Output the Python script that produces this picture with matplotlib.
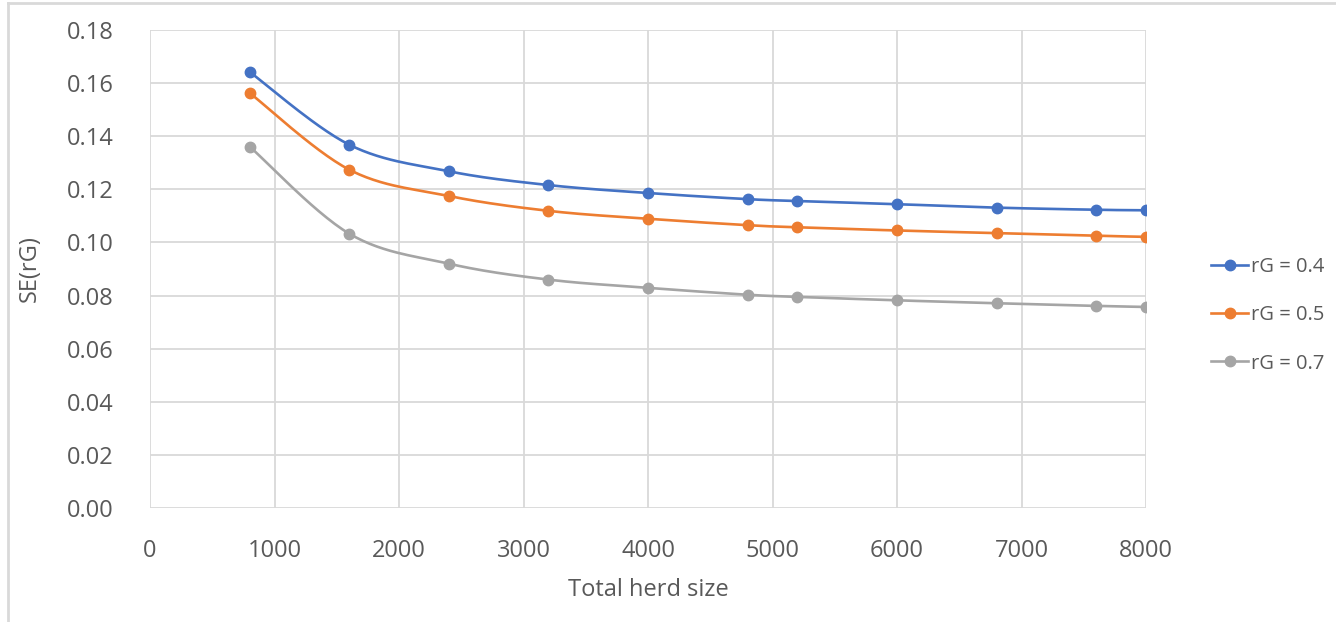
import numpy as np
import matplotlib.pyplot as plt
from matplotlib.lines import Line2D

plt.rcParams['font.family'] = ['Open Sans', 'DejaVu Sans']

herd_size = [800, 1600, 2400, 3200, 4000, 4800, 5200, 6000, 6800, 7600, 8000]
se_rg04 = [0.1642, 0.1368, 0.1268, 0.1216, 0.1186, 0.1163, 0.1156, 0.1144, 0.1131, 0.1123, 0.1121]
se_rg05 = [0.1563, 0.1274, 0.1175, 0.1119, 0.1089, 0.1065, 0.1057, 0.1045, 0.1035, 0.1025, 0.1021]
se_rg07 = [0.1361, 0.1033, 0.0920, 0.0860, 0.0829, 0.0803, 0.0795, 0.0782, 0.0771, 0.0761, 0.0757]
labels = ['rG = 0.4', 'rG = 0.5', 'rG = 0.7']
colors = ['#4472C4', '#ED7D31', '#A5A5A5']


def smooth(x, y, n=30):
    # catmull-rom style curve, close to excel "smoothed line"
    x = np.asarray(x, float); y = np.asarray(y, float)
    px = np.concatenate([[x[0]], x, [x[-1]]])
    py = np.concatenate([[y[0]], y, [y[-1]]])
    xs = []; ys = []
    t = np.linspace(0, 1, n)
    for i in range(1, len(px) - 2):
        p0, p1, p2, p3 = (np.array([px[j], py[j]]) for j in range(i - 1, i + 3))
        c1 = p1 + (p2 - p0) / 6
        c2 = p2 - (p3 - p1) / 6
        b = ((1 - t) ** 3)[:, None] * p1 + (3 * (1 - t) ** 2 * t)[:, None] * c1 \
            + (3 * (1 - t) * t ** 2)[:, None] * c2 + (t ** 3)[:, None] * p2
        xs.extend(b[:, 0]); ys.extend(b[:, 1])
    return xs, ys


fig = plt.figure(figsize=(13.36, 6.22), dpi=100)
ax = fig.add_axes([0.1123, 0.1833, 0.7455, 0.7685])

handles = []
for vals, c, lab in zip([se_rg04, se_rg05, se_rg07], colors, labels):
    sx, sy = smooth(herd_size, vals)
    ax.plot(sx, sy, color=c, lw=1.9, zorder=3, solid_capstyle='round')
    ax.plot(herd_size, vals, 'o', color=c, ms=7.5, zorder=4)
    handles.append(Line2D([], [], color=c, lw=1.9, marker='o', ms=7.5, label=lab))

ax.set_xlim(0, 8000)
ax.set_ylim(0, 0.18)
ax.set_xticks(np.arange(0, 8001, 1000))
ax.set_yticks(np.arange(0, 0.181, 0.02))
ax.set_yticklabels([f'{v:.2f}' for v in np.arange(0, 0.181, 0.02)])
ax.grid(True, color='#D9D9D9', lw=1.3)
ax.set_axisbelow(True)
for s in ax.spines.values():
    s.set_visible(False)
ax.tick_params(axis='y', length=0, labelsize=17, colors='#595959', pad=26)
ax.tick_params(axis='x', length=0, labelsize=17, colors='#595959', pad=22)
ax.set_xlabel('Total herd size', fontsize=17, color='#595959', labelpad=11)
ax.set_ylabel('SE(rG)', fontsize=17, color='#595959', labelpad=18)

fig.legend(handles=handles, loc='center left', bbox_to_anchor=(0.899, 0.493),
           frameon=False, fontsize=14.5, labelcolor='#595959', handlelength=1.85,
           handletextpad=0.15, labelspacing=1.4, borderpad=0)

# outer chart frame
fig.add_artist(Line2D([0.006, 1], [0.995, 0.995], color='#D9D9D9', lw=2, transform=fig.transFigure))
fig.add_artist(Line2D([0.006, 0.006], [0, 0.995], color='#D9D9D9', lw=2, transform=fig.transFigure))

fig.savefig('out.png', dpi=100)
